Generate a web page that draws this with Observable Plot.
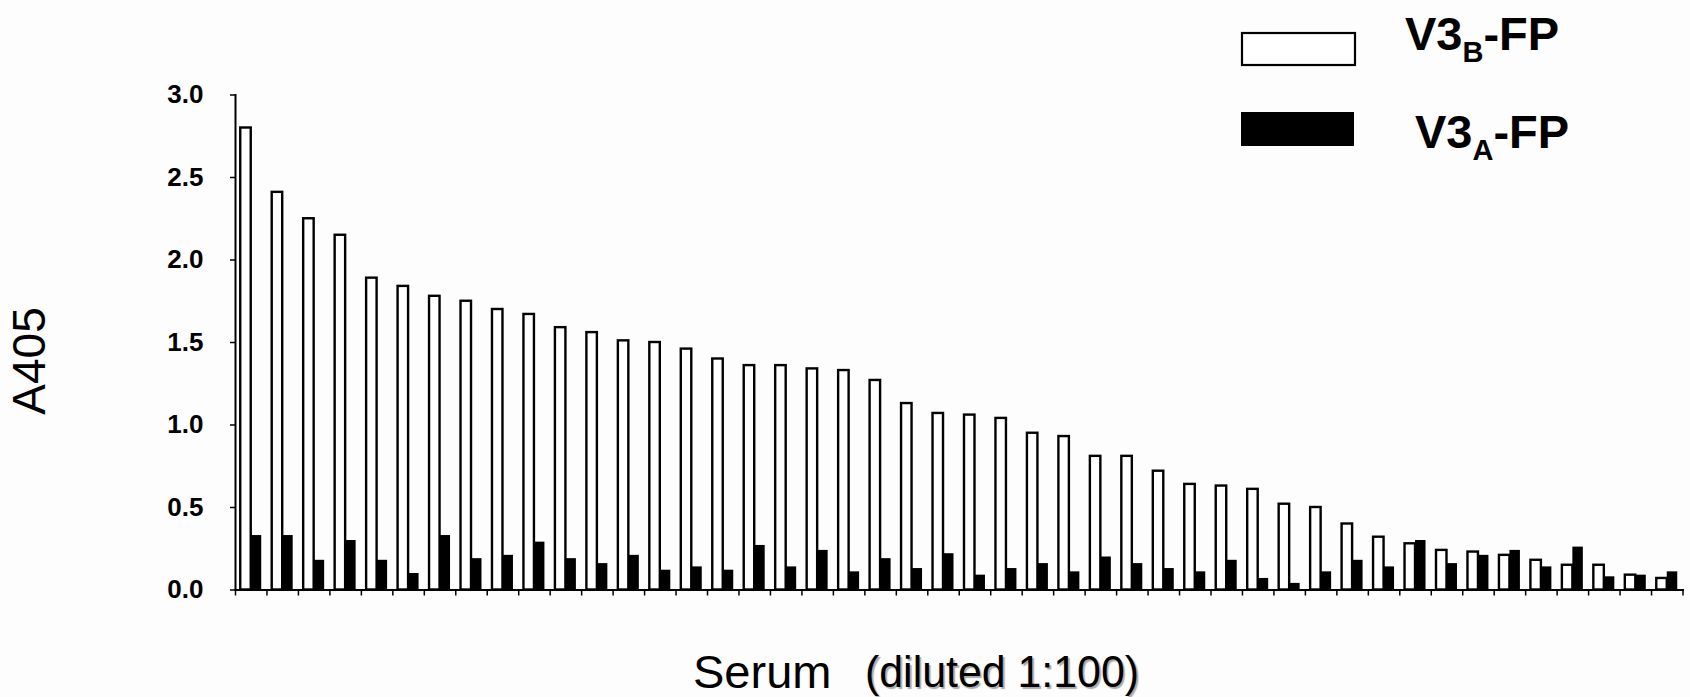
<!DOCTYPE html>
<html>
<head>
<meta charset="utf-8">
<script src="https://cdn.jsdelivr.net/npm/d3@7"></script>
<script src="https://cdn.jsdelivr.net/npm/@observablehq/plot@0.6"></script>
<style>
  html, body { margin: 0; padding: 0; background: #fdfdfd; }
  #wrap { position: relative; width: 1690px; height: 697px; overflow: hidden; background: #fdfdfd;
          font-family: "Liberation Sans", Arial, Helvetica, sans-serif; }
  #wrap > svg { position: absolute; left: 0; top: 0; }
  #overlay { pointer-events: none; }
</style>
</head>
<body>
<div id="wrap"></div>
<script>
// ---- data ----
const serumIds = [1,2,3,4,5,6,7,8,9,10,11,12,13,14,15,16,17,18,19,20,21,22,23,
                  24,25,26,27,28,29,30,31,32,33,34,35,36,37,38,39,40,41,42,43,44,45,46];
const v3bFP = [2.80,2.41,2.25,2.15,1.89,1.84,1.78,1.75,1.70,1.67,1.59,1.56,1.51,1.50,1.46,1.40,
               1.36,1.36,1.34,1.33,1.27,1.13,1.07,1.06,1.04,0.95,0.93,0.81,0.81,0.72,0.64,0.63,
               0.61,0.52,0.50,0.40,0.32,0.28,0.24,0.23,0.21,0.18,0.15,0.15,0.09,0.07];
const v3aFP = [0.33,0.33,0.18,0.30,0.18,0.10,0.33,0.19,0.21,0.29,0.19,0.16,0.21,0.12,0.14,0.12,
               0.27,0.14,0.24,0.11,0.19,0.13,0.22,0.09,0.13,0.16,0.11,0.20,0.16,0.13,0.11,0.18,
               0.07,0.04,0.11,0.18,0.14,0.30,0.16,0.21,0.24,0.14,0.26,0.08,0.09,0.11];
const yTicks = [0, 0.5, 1.0, 1.5, 2.0, 2.5, 3.0];
const seriesNames = ["V3B-FP", "V3A-FP"];

const rows = serumIds.map((id, i) => ({id, v3b: v3bFP[i], v3a: v3aFP[i]}));

// ---- layout ----
const W = 1690, H = 697;
const mL = 235, mR = 7.5, mT = 94.5, mB = 107.5;
const bw = (W - mL - mR) / serumIds.length;

const chart = Plot.plot({
  width: W, height: H,
  marginLeft: mL, marginRight: mR, marginTop: mT, marginBottom: mB,
  style: {background: "transparent", fontFamily: "'Liberation Sans', Arial, sans-serif", color: "black", overflow: "visible"},
  x: {type: "band", domain: serumIds, padding: 0, round: false, axis: null},
  y: {domain: [0, 3], axis: null},
  marks: [
    Plot.barY(rows, {x: "id", y: "v3b", fill: "white", stroke: "black", strokeWidth: 2.4,
                     insetLeft: bw / 6, insetRight: bw / 2}),
    Plot.barY(rows, {x: "id", y: "v3a", fill: "black",
                     insetLeft: bw / 2, insetRight: bw / 6}),
    Plot.axisX({tickSize: 6, tickFormat: () => "", dx: -bw / 2, strokeWidth: 1.5, label: null}),
    Plot.axisX({ticks: [serumIds[serumIds.length - 1]], tickSize: 6, tickFormat: () => "", dx: bw / 2, strokeWidth: 1.5, label: null}),
    Plot.axisY({ticks: yTicks, tickFormat: d => d.toFixed(1), tickSize: 5, tickPadding: 27,
                fontSize: 26, fontWeight: "bold", strokeWidth: 1.5, label: null}),
    Plot.frame({anchor: "left", strokeWidth: 2}),
    Plot.frame({anchor: "bottom", strokeWidth: 2})
  ]
});
document.getElementById("wrap").appendChild(chart);

// ---- axis titles and legend (overlay) ----
const ov = d3.select("#wrap").append("svg")
  .attr("id", "overlay").attr("width", W).attr("height", H)
  .attr("font-family", "'Liberation Sans', Arial, sans-serif");

ov.append("text").attr("transform", "translate(45,361) rotate(-90)")
  .attr("text-anchor", "middle").attr("font-size", 46).attr("fill", "black").text("A405");

ov.append("text").attr("x", 693).attr("y", 688).attr("font-size", 47).attr("fill", "black").text("Serum");
ov.append("text").attr("x", 865).attr("y", 687).attr("font-size", 44)
  .attr("textLength", 274).attr("lengthAdjust", "spacingAndGlyphs")
  .attr("fill", "black").style("text-shadow", "2px 2px 1px #aaa").text("(diluted 1:100)");

// legend
const legend = [
  {name: seriesNames[0], fill: "white", stroke: "black", x: 1242, y: 33, h: 32, tx: 1405, ty: 50, sub: "B"},
  {name: seriesNames[1], fill: "black", stroke: "none", x: 1241, y: 112, h: 34, tx: 1415, ty: 148, sub: "A"}
];
legend.forEach(l => {
  ov.append("rect").attr("x", l.x).attr("y", l.y).attr("width", 113).attr("height", l.h)
    .attr("fill", l.fill).attr("stroke", l.stroke).attr("stroke-width", 2.2);
  const t = ov.append("text").attr("x", l.tx).attr("y", l.ty).attr("font-size", 47)
    .attr("font-weight", "bold").attr("fill", "black");
  const [pre, post] = l.name.split(l.sub);
  t.append("tspan").text(pre);
  t.append("tspan").attr("font-size", 29).attr("dy", 12).text(l.sub);
  t.append("tspan").attr("dy", -12).text(post);
});
</script>
</body>
</html>
